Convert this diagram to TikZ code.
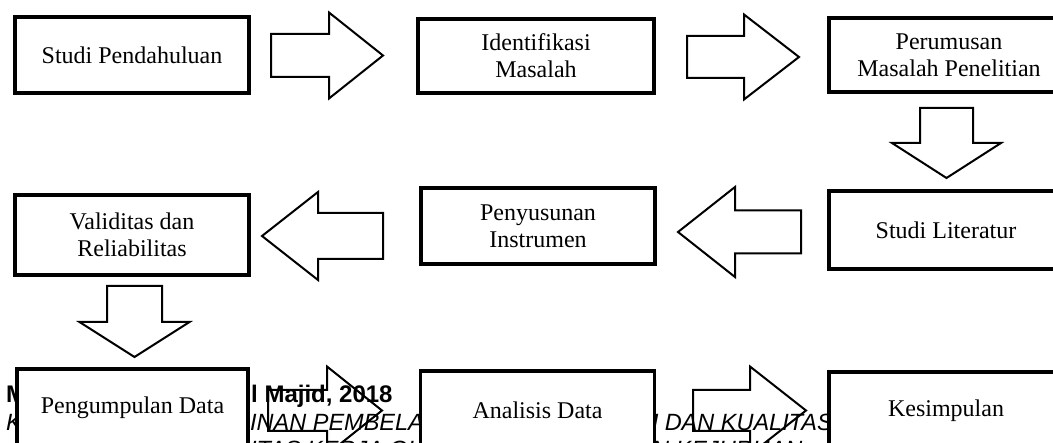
\documentclass[tikz,border=0pt]{standalone}
\usepackage{fontspec}
\setmainfont{Liberation Serif}
\newfontfamily\hdrfont{Liberation Sans}
\tikzset{
  box/.style={draw, line width=3.6pt, fill=white, minimum width=234pt, align=center,
    font=\fontsize{24}{27}\selectfont, inner sep=0pt},
  barrow/.style={draw, line width=2pt, line join=miter},
  hdrbold/.style={anchor=base west, inner sep=0pt, font=\hdrfont\bfseries\fontsize{24}{28}\selectfont},
  hdrit/.style={anchor=base west, inner sep=0pt, font=\hdrfont\itshape\fontsize{23.5}{28}\selectfont},
}
% horizontal block arrow: base x, head x, tip x, centre y, shaft half, head half
\newcommand\blockh[6]{%
  \draw[barrow] ({#1},{#4-#5}) -- ({#2},{#4-#5}) -- ({#2},{#4-#6}) -- ({#3},{#4})
    -- ({#2},{#4+#6}) -- ({#2},{#4+#5}) -- ({#1},{#4+#5}) -- cycle;}
% vertical block arrow: centre x, top y, head y, tip y, shaft half, head half
\newcommand\blockv[6]{%
  \draw[barrow] ({#1-#5},{#2}) -- ({#1+#5},{#2}) -- ({#1+#5},{#3}) -- ({#1+#6},{#3})
    -- ({#1},{#4}) -- ({#1-#6},{#3}) -- ({#1-#5},{#3}) -- cycle;}
\begin{document}
\begin{tikzpicture}[x=1pt,y=-1pt]
\clip (0,0) rectangle (1053,443);
% page header text behind the boxes
\node[hdrbold] (h1a) at (6,403) {M};
\node[hdrbold] (h1b) at (251,403) {l Majid, 2018};
\node[hdrit] (h2a) at (6,431) {K};
\node[hdrit] (h2b) at (250,431) {INAN PEMBELAJA};
\node[hdrit, anchor=base east] (h2c) at (833,431) {H DAN KUALITAS};
\node[hdrit] (h3a) at (250,458) {ITAS KERJA GURU};
\node[hdrit] (h3b) at (652,458) {N KEJURUAN};
% boxes
\node[box, minimum height=76pt] (b1) at (132,55) {Studi Pendahuluan};
\node[box, minimum width=236pt, minimum height=74pt] (b2) at (536,56) {Identifikasi\\Masalah};
\node[box, minimum width=240pt, minimum height=74pt] (b3) at (949,55) {Perumusan\\Masalah Penelitian};
\node[box, minimum height=80pt] (b4) at (132,235) {Validitas dan\\Reliabilitas};
\node[box, minimum height=76pt] (b5) at (538,226) {Penyusunan\\Instrumen};
\node[box, minimum height=78pt] (b6) at (946,230) {Studi Literatur};
\node[box, minimum width=231pt, minimum height=78pt] (b7) at (132.5,408) {Pengumpulan Data};
\node[box, minimum height=78pt] (b8) at (537.5,410) {Analisis Data};
\node[box, minimum height=78pt] (b9) at (946,411) {Kesimpulan};
% block arrows
\blockh{271}{329}{383}{55.5}{21.5}{43}
\blockh{687}{744}{799}{57}{21}{42.5}
\blockv{946.5}{108}{143}{178}{26.5}{54.5}
\blockh{801}{735}{678}{232}{21.5}{45}
\blockh{383}{318}{262}{236}{23}{44}
\blockv{134.5}{286}{322}{357}{27.5}{55}
\blockh{268}{327}{382}{410.5}{20.5}{44}
\blockh{693}{750}{806}{410.5}{20.5}{44}
\end{tikzpicture}
\end{document}
